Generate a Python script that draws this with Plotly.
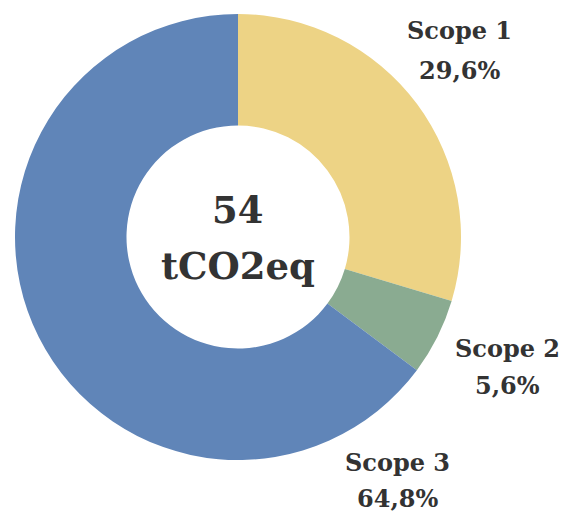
import plotly.graph_objects as go

labels = ["Scope 1", "Scope 2", "Scope 3"]
values = [16, 3, 35]
colors = ["#EDD385", "#8AAB91", "#6085B8"]
center_value = "54"
center_unit = "tCO2eq"

W, H = 578, 513
OFF = 8  # page body margin offset
FONT = "DejaVu Serif"
TXT = "#333333"

total = sum(values)
pct = [f"{v / total * 100:.1f}".replace(".", ",") + "%" for v in values]


def px(x):
    return (x - OFF) / W


def py(y):
    return 1 - (y - OFF) / H


fig = go.Figure(go.Pie(
    labels=labels, values=values, hole=0.5, sort=False,
    direction="clockwise", rotation=0,
    marker=dict(colors=colors, line=dict(width=0)),
    textinfo="none", hoverinfo="label+percent", showlegend=False,
    domain=dict(x=[px(15), px(461)], y=[py(460), py(14)]),
))


def txt(s, x, y, size):
    return dict(
        x=px(x), y=py(y), xref="paper", yref="paper",
        text=f"<b>{s}</b>", showarrow=False,
        font=dict(family=FONT, size=size, color=TXT),
        xanchor="center", yanchor="middle",
    )


# (centre x, first line y, second line y) in pixels
label_pos = [(459, 31, 71), (507, 348, 385), (397, 462, 498)]
anns = []
for lab, p, (lx, y1, y2) in zip(labels, pct, label_pos):
    anns.append(txt(lab, lx, y1, 24))
    anns.append(txt(p, lx, y2, 24))
anns.append(txt(center_value, 238, 210, 37))
anns.append(txt(center_unit, 238, 266, 37))

fig.update_layout(
    width=W, height=H, margin=dict(l=0, r=0, t=0, b=0),
    paper_bgcolor="white", plot_bgcolor="white",
    annotations=anns,
)
fig.write_html("out.html")
